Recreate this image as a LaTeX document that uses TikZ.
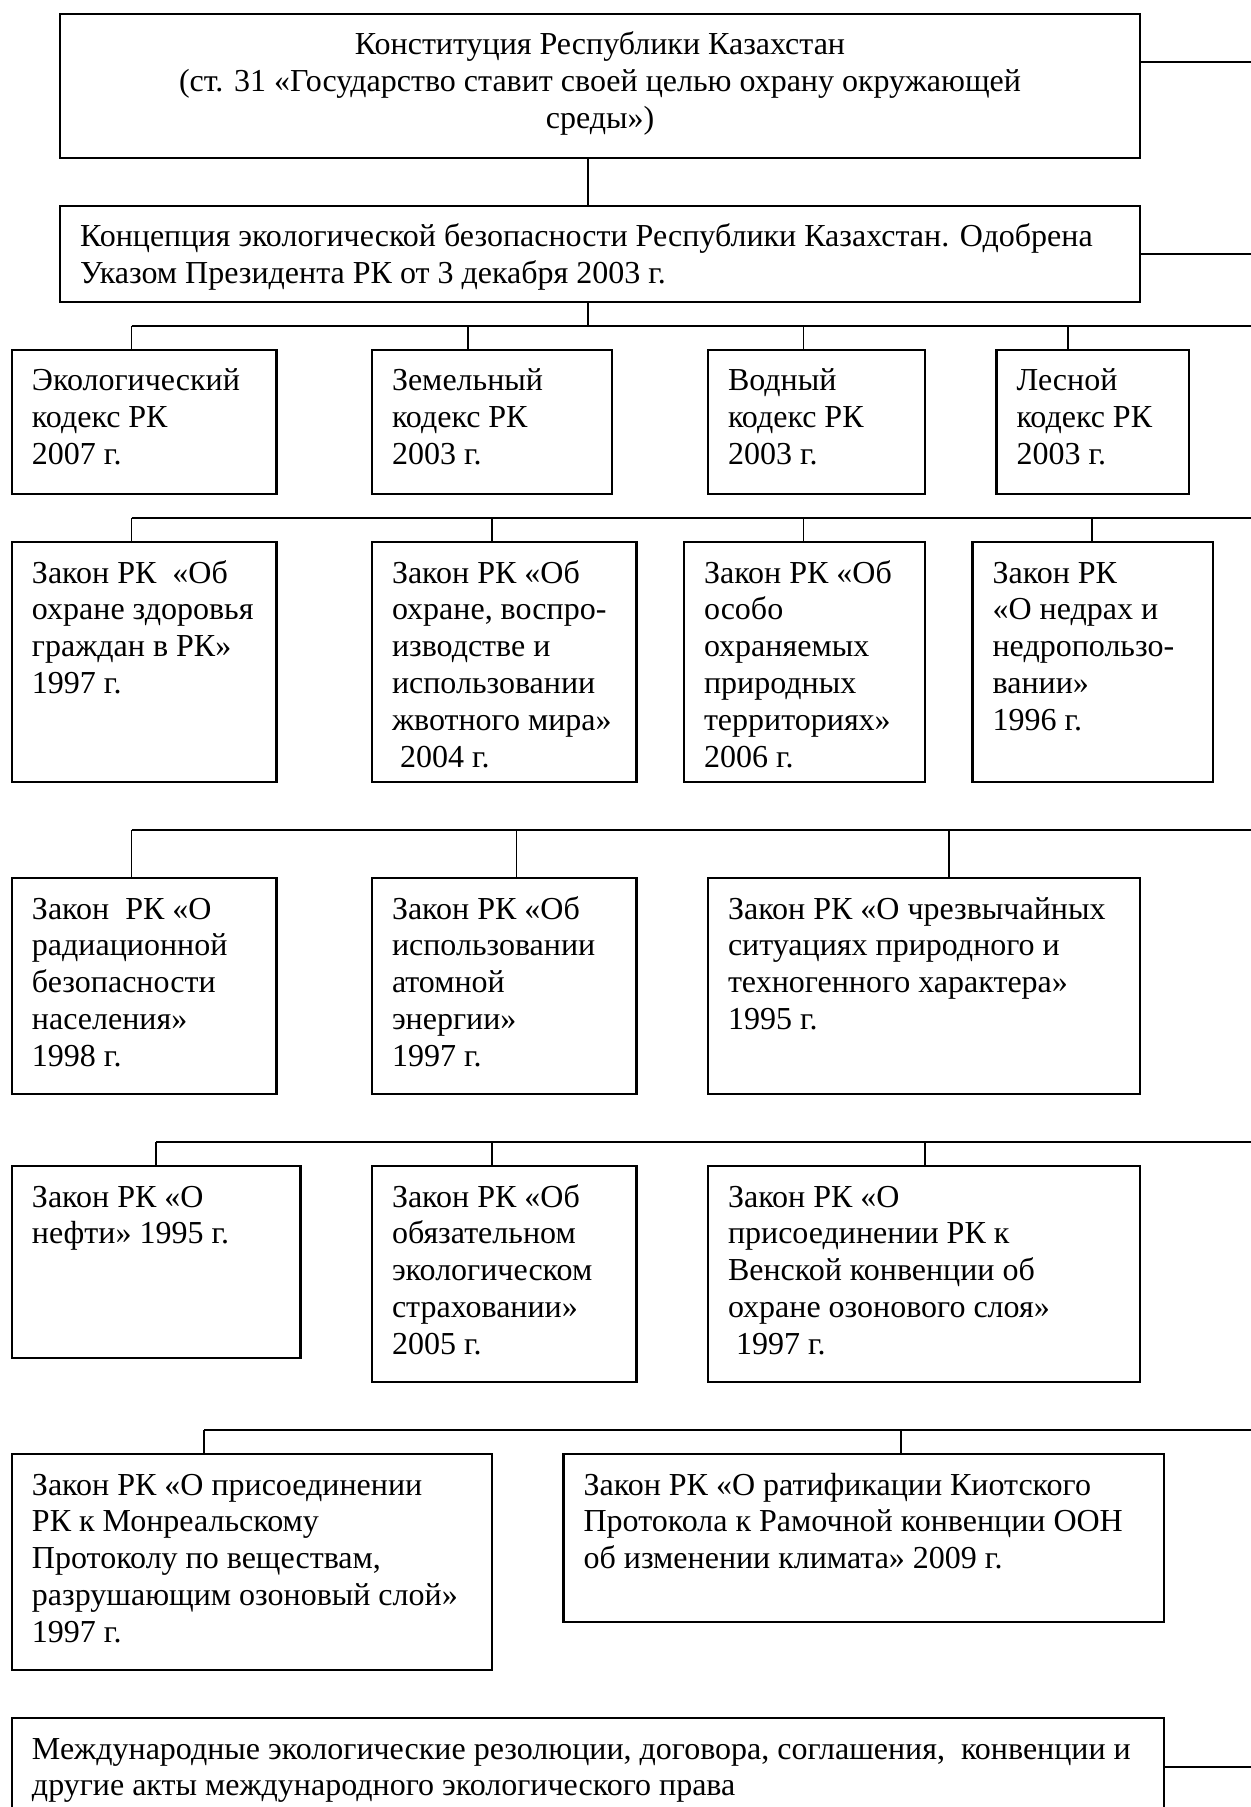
\documentclass[tikz,border=0pt]{standalone}
\usepackage{fontspec}
\setmainfont{Liberation Serif}
\usetikzlibrary{calc}
\newcommand\diabox[6]{%
  \node[box, minimum width={(#4-#2)*0.5pt}, minimum height={(#5-#3)*0.5pt}] (#1) at ({(#2+#4)/2},{(#3+#5)/2}) {};
  \node[txt] (#1t) at ($(#1.north west)+(20,41)$) {\begin{tabular}[t]{@{}l@{}}#6\end{tabular}};}
\begin{document}
\begin{tikzpicture}[x=0.5pt,y=-0.5pt,
  box/.style={draw, line width=1.25pt, rectangle, inner sep=0pt, outer sep=0pt},
  txt/.style={anchor=base west, inner sep=0pt, outer sep=0pt, font=\fontsize{16pt}{18.4pt}\selectfont},
  link/.style={line width=0.8pt}]
\useasboundingbox (0,0) rectangle (1250,1807);

% top boxes
\node[box, minimum width={1080*0.5pt}, minimum height={144*0.5pt}] (const) at (600,86) {};
\node[txt, anchor=base] (constt) at (600,55) {\begin{tabular}[t]{@{}c@{}}Конституция Республики Казахстан\\(ст. 31 «Государство ставит своей целью охрану окружающей\\среды»)\end{tabular}};
\diabox{conc}{60}{206}{1140}{302}{Концепция экологической безопасности Республики Казахстан. Одобрена\\Указом Президента РК от 3 декабря 2003 г.}

% codes
\diabox{k1}{12}{350}{276.6}{494}{Экологический\\кодекс РК\\2007 г.}
\diabox{k2}{372}{350}{612}{494}{Земельный\\кодекс РК\\2003 г.}
\diabox{k3}{708}{350}{925}{494}{Водный\\кодекс РК\\2003 г.}
\diabox{k4}{996.5}{350}{1189}{494}{Лесной\\кодекс РК\\2003 г.}

% laws row 1
\diabox{a1}{12}{542}{276.6}{782}{Закон РК~ «Об\\охране здоровья\\граждан в РК»\\1997 г.}
\diabox{a2}{372}{542}{636.7}{782}{Закон РК «Об\\охране, воспро-\\изводстве и\\использовании\\жвотного мира»\\\hspace*{0.25em}2004 г.}
\diabox{a3}{684}{542}{925}{782}{Закон РК «Об\\особо\\охраняемых\\природных\\территориях»\\2006 г.}
\diabox{a4}{972.6}{542}{1213}{782}{Закон РК\\«О недрах и\\недропользо-\\вании»\\1996 г.}

% laws row 2
\diabox{b1}{12}{878}{276.6}{1094}{Закон~ РК «О\\радиационной\\безопасности\\населения»\\1998 г.}
\diabox{b2}{372}{878}{636.7}{1094}{Закон РК «Об\\использовании\\атомной\\энергии»\\1997 г.}
\diabox{b3}{708}{878}{1140}{1094}{Закон РК «О чрезвычайных\\ситуациях природного и\\техногенного характера»\\1995 г.}

% laws row 3
\diabox{c1}{12}{1166}{300.5}{1358}{Закон РК «О\\нефти» 1995 г.}
\diabox{c2}{372}{1166}{636.7}{1382}{Закон РК «Об\\обязательном\\экологическом\\страховании»\\2005 г.}
\diabox{c3}{708}{1166}{1140}{1382}{Закон РК «О\\присоединении РК к\\Венской конвенции об\\охране озонового слоя»\\\hspace*{0.25em}1997 г.}

% laws row 4
\diabox{d1}{12}{1454}{492}{1670}{Закон РК «О присоединении\\РК к Монреальскому\\Протоколу по веществам,\\разрушающим озоновый слой»\\1997 г.}
\diabox{d2}{563.6}{1454}{1164}{1622}{Закон РК «О ратификации Киотского\\Протокола к Рамочной конвенции ООН\\об изменении климата» 2009 г.}

% international
\diabox{intl}{12}{1718}{1164}{1830}{Международные экологические резолюции, договора, соглашения,~ конвенции и\\другие акты международного экологического права}

% right-edge stubs
\coordinate (e0) at (1262,62);
\coordinate (e1) at (1262,254);
\coordinate (e2) at (1262,326);
\coordinate (e3) at (1262,518);
\coordinate (e4) at (1262,830);
\coordinate (e5) at (1262,1141.7);
\coordinate (e6) at (1262,1430);
\coordinate (e7) at (1262,1767);
\draw[link] (const.east |- e0) -- (e0);
\draw[link] (conc.east |- e1) -- (e1);
\draw[link] (intl.east |- e7) -- (e7);

% vertical trunk
\draw[link] ([xshift=-6pt]const.south) -- ([xshift=-6pt]conc.north);

% bus 1
\coordinate (j1) at (131.5,326);
\draw[link] ([xshift=-6pt]conc.south) -- ([xshift=-6pt]conc.south |- j1);
\draw[link] (j1) -- (e2);
\foreach \xx/\nn in {131.5/k1,468/k2,803.6/k3,1068/k4}
  \draw[link] (\xx,326) -- (\xx,326 |- \nn.north);

% bus 2
\coordinate (j2) at (131.5,518);
\draw[link] (j2) -- (e3);
\foreach \xx/\nn in {131.5/a1,492/a2,803.6/a3,1092/a4}
  \draw[link] (\xx,518) -- (\xx,518 |- \nn.north);

% bus 3
\coordinate (j3) at (131.5,830);
\draw[link] (j3) -- (e4);
\foreach \xx/\nn in {131.5/b1,516.6/b2,948.7/b3}
  \draw[link] (\xx,830) -- (\xx,830 |- \nn.north);

% bus 4
\coordinate (j4) at (156,1141.7);
\draw[link] (j4) -- (e5);
\foreach \xx/\nn in {156/c1,492/c2,925/c3}
  \draw[link] (\xx,1141.7) -- (\xx,1141.7 |- \nn.north);

% bus 5
\coordinate (j5) at (204,1430);
\draw[link] (j5) -- (e6);
\foreach \xx/\nn in {204/d1,900.8/d2}
  \draw[link] (\xx,1430) -- (\xx,1430 |- \nn.north);
\end{tikzpicture}
\end{document}
